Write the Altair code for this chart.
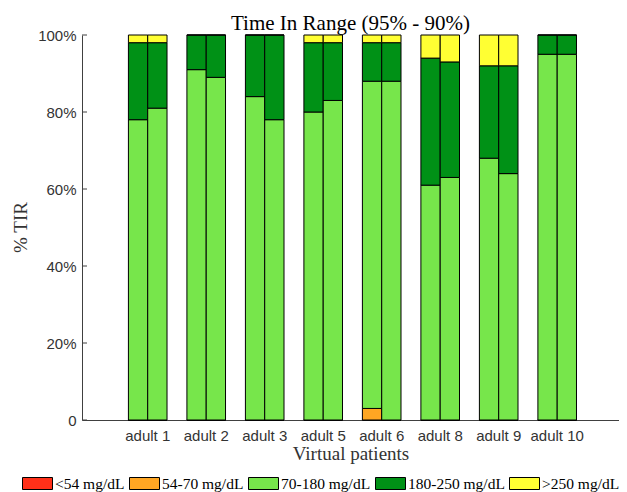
import altair as alt
import pandas as pd

patients = ["adult 1", "adult 2", "adult 3", "adult 5", "adult 6", "adult 8", "adult 9", "adult 10"]
ranges = ["<54 mg/dL", "54-70 mg/dL", "70-180 mg/dL", "180-250 mg/dL", ">250 mg/dL"]
colors = ["#FF3019", "#FFA623", "#77E64B", "#009116", "#FFFF33"]

# first bar of each patient (95%)
lt54_a = [0, 0, 0, 0, 0, 0, 0, 0]
r54_70_a = [0, 0, 0, 0, 3, 0, 0, 0]
r70_180_a = [78, 91, 84, 80, 85, 61, 68, 95]
r180_250_a = [20, 9, 16, 18, 10, 33, 24, 5]
gt250_a = [2, 0, 0, 2, 2, 6, 8, 0]

# second bar of each patient (90%)
lt54_b = [0, 0, 0, 0, 0, 0, 0, 0]
r54_70_b = [0, 0, 0, 0, 0, 0, 0, 0]
r70_180_b = [81, 89, 78, 83, 88, 63, 64, 95]
r180_250_b = [17, 11, 22, 15, 10, 30, 28, 5]
gt250_b = [2, 0, 0, 2, 2, 7, 8, 0]

y_ticks = [0, 20, 40, 60, 80, 100]

rows = []
for run, series in [
    (1, [lt54_a, r54_70_a, r70_180_a, r180_250_a, gt250_a]),
    (2, [lt54_b, r54_70_b, r70_180_b, r180_250_b, gt250_b]),
]:
    for k, vals in enumerate(series):
        for i, p in enumerate(patients):
            rows.append({"patient": p, "run": run, "range": ranges[k], "order": k, "value": vals[i]})
df = pd.DataFrame(rows)

serif = "Liberation Serif"
sans = "Liberation Sans"
axis_col = "#404040"

bars = alt.Chart(df).mark_bar(stroke="#000000", strokeWidth=1, opacity=1).encode(
    x=alt.X(
        "patient:N",
        sort=patients,
        scale=alt.Scale(paddingInner=0.34, paddingOuter=0.76, align=0.522),
        axis=alt.Axis(
            title="Virtual patients",
            labelAngle=0,
            ticks=False,
            labelPadding=8,
            labelFont=sans,
            labelFontSize=15,
            labelColor="#333333",
            titleFont=serif,
            titleFontSize=19,
            titleFontWeight="normal",
            titleColor="#333333",
            titleY=33,
            titleBaseline="middle",
            domainColor=axis_col,
            grid=False,
        ),
    ),
    xOffset=alt.XOffset("run:O", scale=alt.Scale(paddingInner=0, paddingOuter=0)),
    y=alt.Y(
        "value:Q",
        stack="zero",
        scale=alt.Scale(domain=[0, 100], nice=False),
        axis=alt.Axis(
            title="% TIR",
            values=y_ticks,
            labelExpr="datum.value == 0 ? '0' : datum.value + '%'",
            ticks=False,
            labelPadding=6,
            labelFont=sans,
            labelFontSize=15,
            labelColor="#333333",
            titleFont=serif,
            titleFontSize=19,
            titleFontWeight="normal",
            titleColor="#333333",
            titleX=-62,
            titleY=192,
            titleBaseline="middle",
            titleAlign="center",
            domainColor=axis_col,
            grid=False,
        ),
    ),
    color=alt.Color(
        "range:N",
        sort=ranges,
        scale=alt.Scale(domain=ranges, range=colors),
        legend=alt.Legend(
            title=None,
            orient="none",
            legendX=-60,
            legendY=433,
            direction="horizontal",
            columns=5,
            symbolType="M-1,-0.4H1V0.4H-1Z",
            symbolSize=900,
            symbolStrokeColor="#000000",
            symbolStrokeWidth=1,
            symbolOpacity=1,
            labelFont=serif,
            labelFontSize=15.5,
            labelColor="#000000",
            labelOffset=2,
            columnPadding=2,
        ),
    ),
    order=alt.Order("order:Q", sort="ascending"),
)

ticks_df = pd.DataFrame({"t": y_ticks})
yticks = alt.Chart(ticks_df).mark_rule(color=axis_col, strokeWidth=1).encode(
    y=alt.Y("t:Q"),
    x=alt.value(0),
    x2=alt.value(5),
)

chart = alt.layer(bars, yticks).properties(
    width=537,
    height=385,
    title=alt.Title(
        "Time In Range (95% - 90%)",
        font=serif,
        fontSize=21,
        fontWeight="normal",
        color="#000000",
        anchor="middle",
        frame="group",
        offset=-6,
    ),
    padding={"left": 74, "top": 27, "right": 0, "bottom": 72},
    autosize=alt.AutoSizeParams(type="none"),
).configure_view(stroke=None)

chart.save("out.html", embed_options={"renderer": "svg", "actions": False})
